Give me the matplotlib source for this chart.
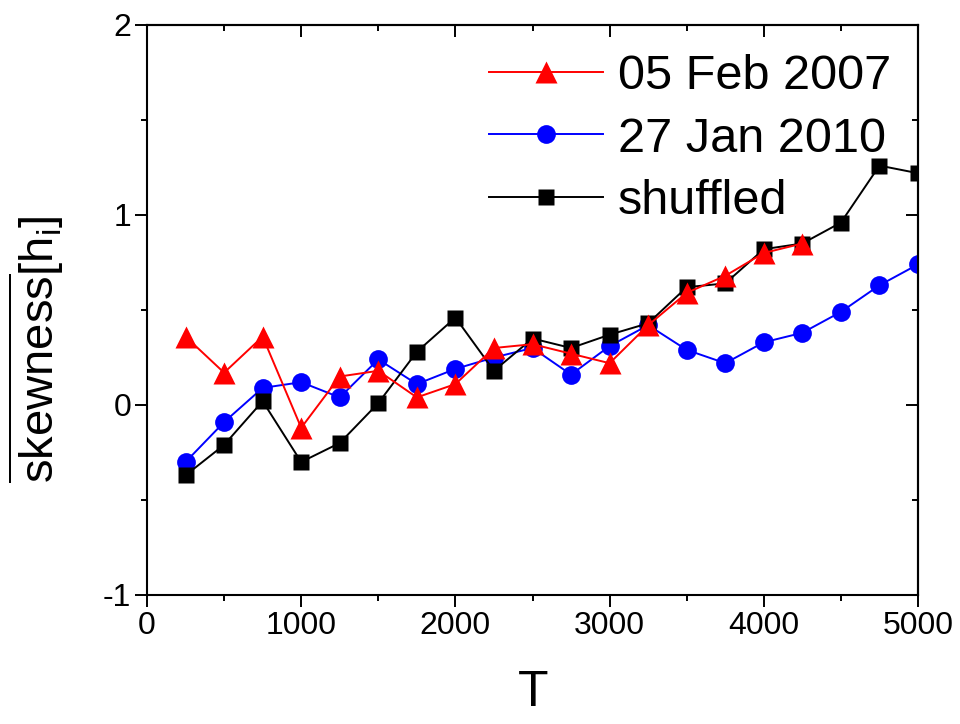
import matplotlib
matplotlib.use("Agg")
import matplotlib.pyplot as plt
from matplotlib.ticker import MultipleLocator, FormatStrFormatter

plt.rcParams['font.family'] = ['Liberation Sans', 'DejaVu Sans']
plt.rcParams['mathtext.fontset'] = 'custom'
plt.rcParams['mathtext.rm'] = 'Liberation Sans'
plt.rcParams['mathtext.it'] = 'Liberation Sans:italic'
plt.rcParams['axes.unicode_minus'] = False

# data
T_feb = [250, 500, 750, 1000, 1250, 1500, 1750, 2000, 2250, 2500, 2750,
         3000, 3250, 3500, 3750, 4000, 4250]
skew_feb = [0.36, 0.17, 0.36, -0.12, 0.15, 0.18, 0.04, 0.11, 0.30, 0.32,
            0.27, 0.22, 0.42, 0.59, 0.68, 0.80, 0.85]

T_jan = [250, 500, 750, 1000, 1250, 1500, 1750, 2000, 2250, 2500, 2750,
         3000, 3250, 3500, 3750, 4000, 4250, 4500, 4750, 5000]
skew_jan = [-0.30, -0.09, 0.09, 0.12, 0.04, 0.24, 0.11, 0.19, 0.25, 0.30,
            0.16, 0.31, 0.42, 0.29, 0.22, 0.33, 0.38, 0.49, 0.63, 0.74]

T_shuf = [250, 500, 750, 1000, 1250, 1500, 1750, 2000, 2250, 2500, 2750,
          3000, 3250, 3500, 3750, 4000, 4250, 4500, 4750, 5000]
skew_shuf = [-0.37, -0.21, 0.02, -0.30, -0.20, 0.01, 0.28, 0.46, 0.18, 0.35,
             0.30, 0.37, 0.43, 0.62, 0.64, 0.82, 0.85, 0.96, 1.26, 1.22]

labels = ['05 Feb 2007', '27 Jan 2010', 'shuffled']

fig = plt.figure(figsize=(9.6, 7.24), dpi=100)
ax = fig.add_axes([147 / 960, 1 - 595 / 724, 771 / 960, 570 / 724])

l_jan, = ax.plot(T_jan, skew_jan, color='blue', lw=1.4, marker='o', ms=13.5,
                 mec='none', zorder=2)
l_shuf, = ax.plot(T_shuf, skew_shuf, color='black', lw=1.4, marker='s', ms=12,
                  mec='none', zorder=3)
l_feb, = ax.plot(T_feb, skew_feb, color='red', lw=1.4, marker='^', ms=15.5,
                 mec='none', zorder=4)

ax.set_xlim(0, 5000)
ax.set_ylim(-1, 2)
ax.xaxis.set_major_locator(MultipleLocator(1000))
ax.xaxis.set_minor_locator(MultipleLocator(500))
ax.yaxis.set_major_locator(MultipleLocator(1))
ax.yaxis.set_minor_locator(MultipleLocator(0.5))
ax.yaxis.set_major_formatter(FormatStrFormatter('%d'))

for s in ax.spines.values():
    s.set_linewidth(1.5)
ax.tick_params(which='major', direction='out', length=8.5, width=1.4,
               labelsize=23, pad=3)
ax.tick_params(which='minor', direction='out', length=4.5, width=1.4)

# mirrored ticks on top and right, pointing inward
top = ax.secondary_xaxis('top')
top.xaxis.set_major_locator(MultipleLocator(1000))
top.xaxis.set_minor_locator(MultipleLocator(500))
top.tick_params(which='major', direction='in', length=8.5, width=1.4, labeltop=False)
top.tick_params(which='minor', direction='in', length=4.5, width=1.4)
top.spines['top'].set_linewidth(1.5)
right = ax.secondary_yaxis('right')
right.yaxis.set_major_locator(MultipleLocator(1))
right.yaxis.set_minor_locator(MultipleLocator(0.5))
right.tick_params(which='major', direction='in', length=8.5, width=1.4, labelright=False)
right.tick_params(which='minor', direction='in', length=4.5, width=1.4)
right.spines['right'].set_linewidth(1.5)

fig.text(533 / 960, 1 - 693 / 724, 'T', fontsize=36, ha='center', va='center')
fig.text(36 / 960, 1 - 349 / 724, r'$\overline{\mathrm{skewness}}[\mathrm{h}_\mathrm{i}]$',
         fontsize=34, rotation=90, ha='center', va='center')

ax.legend([l_feb, l_jan, l_shuf], labels, loc='upper left',
          bbox_to_anchor=(489 / 960, 1 - 54 / 724), bbox_transform=fig.transFigure,
          frameon=False, fontsize=35, handlelength=2.35, handletextpad=0.3,
          labelspacing=0.36, borderpad=0, borderaxespad=0)

fig.savefig('out.png', dpi=100)
